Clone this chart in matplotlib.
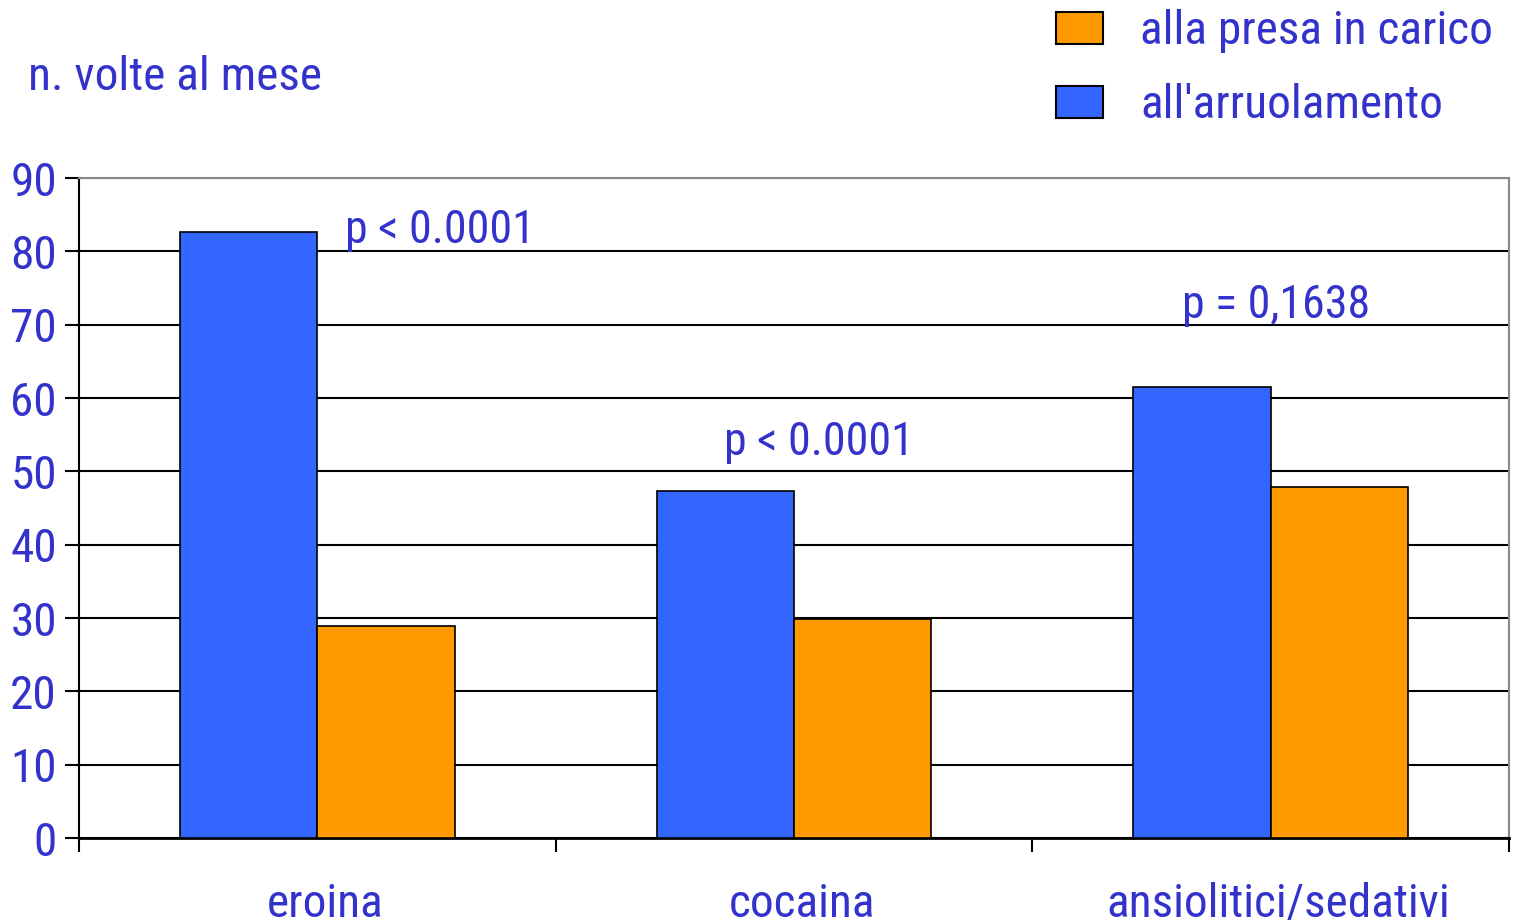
import matplotlib
matplotlib.use("Agg")
import matplotlib.pyplot as plt
from matplotlib.patches import Rectangle
from matplotlib.transforms import ScaledTranslation

categories = ["eroina", "cocaina", "ansiolitici/sedativi"]
arruolamento = [82.7, 47.3, 61.5]
presa_in_carico = [28.9, 29.9, 47.9]
p_labels = ["p < 0.0001", "p < 0.0001", "p = 0,1638"]
p_pos = [(0.558, 8.11), (1.353, 5.22), (2.314, 7.09)]
yticks = list(range(0, 100, 10))

TXT = "#3333CC"
BLUE = "#3366FF"
ORANGE = "#FF9900"
FAM = ["Roboto Condensed", "DejaVu Sans"]
plt.rcParams["font.family"] = FAM

fig = plt.figure(figsize=(15.14, 9.24), dpi=100)
ax = fig.add_axes([79/1514, 1-838/924, 1430/1514, 660/924])

w = 0.288
xs = [i + 0.5 for i in range(len(categories))]
ax.bar([x - w/2 for x in xs], [v/10 for v in arruolamento], width=w, color=BLUE,
       edgecolor="black", linewidth=1.2, zorder=3)
ax.bar([x + w/2 for x in xs], [v/10 for v in presa_in_carico], width=w, color=ORANGE,
       edgecolor="black", linewidth=1.2, zorder=3)

ax.set_xlim(0, 3)
ax.set_ylim(0, 9)
ax.set_yticks([t/10 for t in yticks])
ax.set_yticklabels([str(t) for t in yticks], color=TXT, fontsize=34)
ax.tick_params(axis="y", length=10, width=1.5, direction="out", pad=6)
ax.set_xticks([0, 1, 2, 3])
ax.set_xticklabels([])
ax.tick_params(axis="x", which="major", length=10, width=1.5, direction="out")
ax.set_xticks(xs, minor=True)
ax.set_xticklabels(categories, minor=True, color=TXT, fontsize=34)
ax.tick_params(axis="x", which="minor", length=0, pad=32)
off = ScaledTranslation(8/100, 0, fig.dpi_scale_trans)
for lab in ax.get_xticklabels(minor=True):
    lab.set_transform(lab.get_transform() + off)

ax.yaxis.grid(True, color="black", linewidth=1.5, zorder=0)
ax.set_axisbelow(True)
for s in ["top", "right"]:
    ax.spines[s].set_color("#888888")
    ax.spines[s].set_linewidth(1.5)
ax.spines["left"].set_linewidth(1.5)
ax.spines["bottom"].set_linewidth(2)

for lab, (px, py) in zip(p_labels, p_pos):
    ax.text(px, py, lab, color=TXT, fontsize=33, ha="left", va="baseline")

fig.text(28/1514, 1-90/924, "n. volte al mese", color=TXT, fontsize=34, ha="left", va="baseline")

# legend
for (y0, col, lab) in [(12, ORANGE, "alla presa in carico"), (86, BLUE, "all'arruolamento")]:
    fig.add_artist(Rectangle((1056/1514, 1-(y0+32)/924), 47/1514, 32/924,
                             transform=fig.transFigure, facecolor=col, edgecolor="black", linewidth=1.5))
    fig.text(1140/1514, 1-(y0+32)/924, lab, color=TXT, fontsize=34, ha="left", va="baseline")

fig.savefig("out.png", dpi=100)
